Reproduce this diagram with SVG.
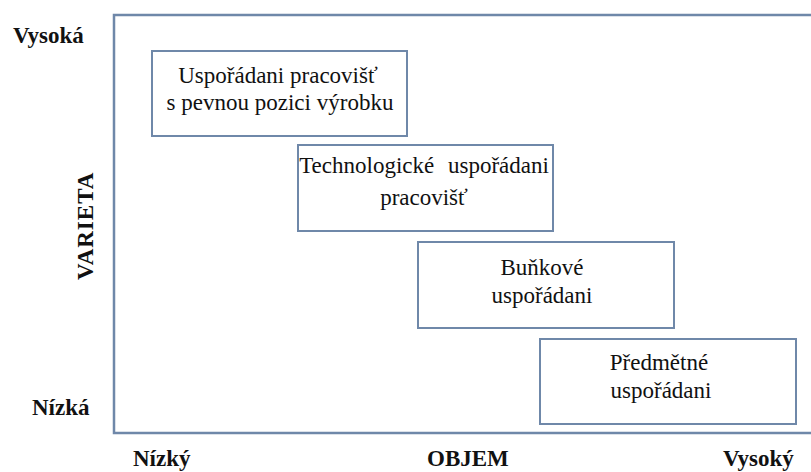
<svg xmlns="http://www.w3.org/2000/svg" width="811" height="472" viewBox="0 0 811 472">
  <style>
    .frame { fill: none; stroke: #6f88a9; stroke-width: 2.5; }
    .box rect { fill: #ffffff; stroke: #6f88a9; stroke-width: 2; }
    text { font-family: 'Liberation Serif', 'Tinos', 'DejaVu Serif', serif; fill: #111111; }
    .box text { font-size: 23px; text-anchor: middle; }
    .axis { font-size: 23px; font-weight: bold; }
  </style>
  <rect width="811" height="472" fill="#ffffff"/>

  <!-- chart frame (open on the right) -->
  <path class="frame" d="M 811 15 H 114 V 433 H 811"/>

  <!-- axis labels -->
  <g id="axis-labels">
    <text class="axis" x="13" y="43">Vysoká</text>
    <text class="axis" x="32" y="415">Nízká</text>
    <text class="axis" transform="translate(93,280) rotate(-90)" letter-spacing="1">VARIETA</text>
    <text class="axis" x="133" y="466">Nízký</text>
    <text class="axis" x="427" y="466">OBJEM</text>
    <text class="axis" x="723" y="466">Vysoký</text>
  </g>

  <g id="node-fixed" class="box">
    <rect x="152" y="51" width="255" height="85"/>
    <text x="278" y="83">Uspořádani pracovišť</text>
    <text x="280" y="110">s pevnou pozici výrobku</text>
  </g>

  <g id="node-process" class="box">
    <rect x="298" y="145" width="255" height="86"/>
    <text x="424" y="173" word-spacing="8">Technologické uspořádani</text>
    <text x="424" y="205">pracovišť</text>
  </g>

  <g id="node-cellular" class="box">
    <rect x="418" y="242" width="256" height="86"/>
    <text x="542" y="275">Buňkové</text>
    <text x="542" y="303">uspořádani</text>
  </g>

  <g id="node-product" class="box">
    <rect x="540" y="339" width="256" height="85"/>
    <text x="659" y="370">Předmětné</text>
    <text x="661" y="398">uspořádani</text>
  </g>

  <g id="connectors"/>
</svg>
